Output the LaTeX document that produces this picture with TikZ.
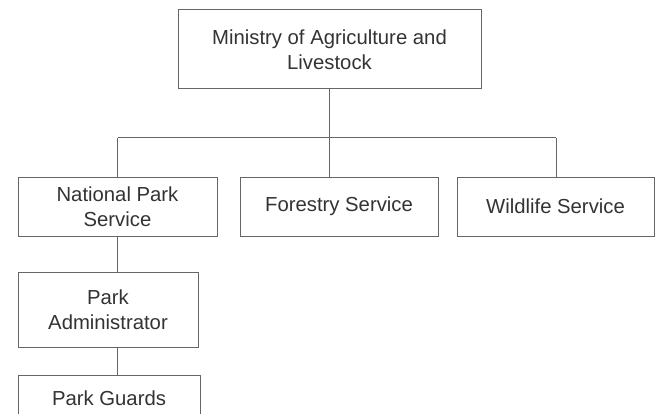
\documentclass[tikz,border=0pt]{standalone}
\usepackage{fontspec}
\setmainfont{Liberation Sans}
\definecolor{linec}{HTML}{666666}
\definecolor{textc}{HTML}{333333}
\begin{document}
\begin{tikzpicture}[x=1pt,y=-1pt,
  box/.style={draw=linec,line width=1pt,fill=white,text=textc,align=center,
    font=\fontsize{20.3}{25}\selectfont,inner sep=0pt},
  conn/.style={draw=linec,line width=1pt}]
\useasboundingbox (0,0) rectangle (655,414);
\clip (0,0) rectangle (655,414);
\node[box,minimum width=303pt,minimum height=79pt] (top) at (329.5,49.5) {Ministry of Agriculture and\\Livestock};
\node[box,minimum width=199pt,minimum height=59pt] (nps) at (117.5,206.5) {National Park\\Service};
\node[box,minimum width=198pt,minimum height=59pt] (fs) at (339,206.5) {Forestry Service};
\node[box,minimum width=197pt,minimum height=59pt] (ws) at (555.5,206.5) {Wildlife Service};
\node[box,minimum width=180pt,minimum height=75pt] (pa) at (108,309.5) {Park\\Administrator};
\node[box,minimum width=182pt,minimum height=46pt] (pg) at (109,398) {Park Guards};
\coordinate (hub) at (329.5,138);
\coordinate (hl) at (117.5,138);
\coordinate (hr) at (556,138);
\draw[conn] (top.south) -- (hub);
\draw[conn] (hl) -- (hr);
\draw[conn] (hl) -- (nps.north);
\draw[conn] (hub) -- (hub |- fs.north);
\draw[conn] (hr) -- (hr |- ws.north);
\draw[conn] (nps.south) -- (nps.south |- pa.north);
\draw[conn] (nps.south |- pa.south) -- (nps.south |- pg.north);
\end{tikzpicture}
\end{document}
